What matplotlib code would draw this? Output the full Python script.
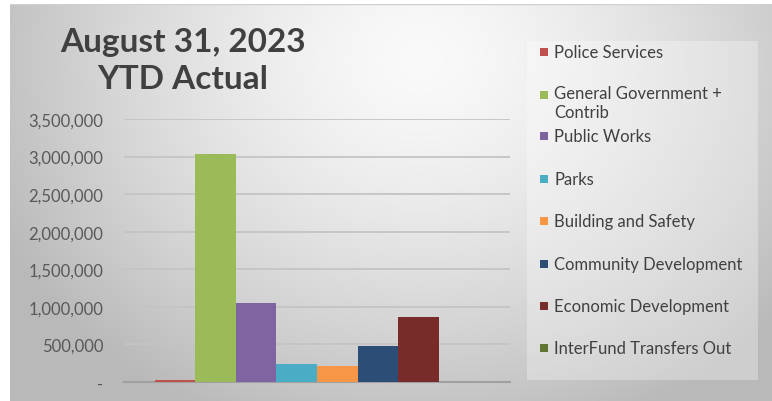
import numpy as np
import matplotlib.pyplot as plt
from matplotlib.patches import Rectangle

# Data
series = ['Police Services', 'General Government +\nContrib', 'Public Works', 'Parks',
          'Building and Safety', 'Community Development', 'Economic Development',
          'InterFund Transfers Out']
values = [25000, 3030000, 1050000, 240000, 213000, 480000, 868000, 0]
colors = ['#C0504D', '#9BBB59', '#8064A2', '#4BACC6', '#F79646', '#2C4D75', '#772C2A', '#5F7530']
yticks = [0, 500000, 1000000, 1500000, 2000000, 2500000, 3000000, 3500000]
ytick_labels = ['-' if v == 0 else f'{v:,}' for v in yticks]
title = 'August 31, 2023\nYTD Actual'

W, H = 772, 402
fig = plt.figure(figsize=(W / 100, H / 100), dpi=100, facecolor='white')

# Gradient background of the chart area
bg = fig.add_axes([10 / W, 0, (W - 10) / W, (H - 5) / H])
bg.set_axis_off()
yy, xx = np.mgrid[0:H - 5, 10:W]
yy = yy + 5
r = np.sqrt(((xx - 420) / 400.0) ** 2 + ((yy - 60) / 340.0) ** 2)
v = np.clip(250 - 52 * r ** 1.4, 185, 250) / 255.0
img = np.dstack([v, v, v])
bg.imshow(img, aspect='auto', extent=[0, 1, 0, 1])
bg.plot([0, 1], [1, 1], color='#d0d0d0', lw=1, transform=bg.transAxes)

# Bar plot
ax = fig.add_axes([124 / W, (H - 383) / H, (510 - 124) / W, (383 - 120) / H])
ax.patch.set_alpha(0)
x = np.arange(len(series))
ax.bar(x, values, width=1.0, color=colors, edgecolor='none', zorder=3)
ax.set_xlim(-1.265, 8.265)
ax.set_ylim(0, 3500000)
ax.set_yticks(yticks)
ax.set_yticklabels(ytick_labels, fontsize=12, color='#595959', fontfamily='Lato')
ax.set_xticks([])
ax.tick_params(axis='y', length=0, pad=15)
ax.grid(axis='y', color='#c4c4c4', lw=1.3, zorder=0)
for s in ['top', 'right', 'left']:
    ax.spines[s].set_visible(False)
ax.spines['bottom'].set_color('#a0a0a0')
ax.spines['bottom'].set_linewidth(1.5)
ax.spines['bottom'].set_zorder(2)

# Title
fig.text(183 / W, 1 - 61 / H, title, ha='center', va='center', fontsize=24,
         fontweight='bold', color='#404040', fontfamily='Lato', linespacing=1.3)

# Legend box
fig.patches.append(Rectangle((527 / W, 1 - 381 / H), (758 - 527) / W, (381 - 42) / H,
                             transform=fig.transFigure, facecolor='white', alpha=0.3,
                             edgecolor='none'))
legend_y = [53, 96, 137, 180, 222, 265, 307, 349]
for name, col, ly in zip(series, colors, legend_y):
    fig.patches.append(Rectangle((540 / W, 1 - (ly + 4) / H), 8 / W, 8 / H,
                                 transform=fig.transFigure, facecolor=col, edgecolor='none'))
    if '\n' in name:
        fig.text(554 / W, 1 - (ly - 10) / H, name, ha='left', va='top',
                 fontsize=12, color='#404040', fontfamily='Lato', linespacing=1.25)
    else:
        fig.text(554 / W, 1 - ly / H, name, ha='left', va='center',
                 fontsize=12, color='#404040', fontfamily='Lato')

fig.savefig('out.png', dpi=100, facecolor='white')
